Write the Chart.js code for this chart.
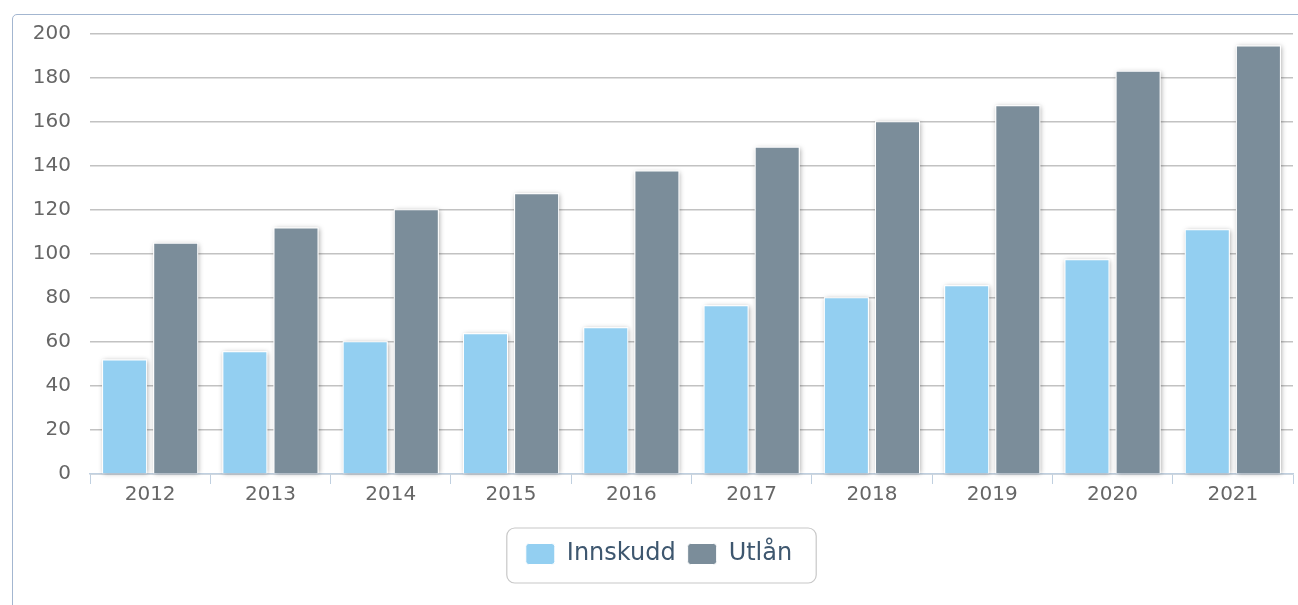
<!DOCTYPE html>
<html>
<head>
<meta charset="utf-8">
<script src="https://cdn.jsdelivr.net/npm/chart.js@4/dist/chart.umd.min.js"></script>
<style>
  html, body { margin: 0; padding: 0; background: #fff; overflow: hidden; }
  #frame {
    position: absolute; left: 12px; top: 14px; width: 1400px; height: 700px;
    border: 1px solid #a3b6d0; border-radius: 5px;
  }
  #chart { position: absolute; left: 0; top: 0; }
</style>
</head>
<body>
<div id="frame"></div>
<canvas id="chart" width="1298" height="605"></canvas>
<script>
// Data
const years = ['2012', '2013', '2014', '2015', '2016', '2017', '2018', '2019', '2020', '2021'];
const innskudd = [52.1, 55.8, 60.3, 64.0, 66.7, 76.7, 80.3, 85.8, 97.6, 111.2];
const utlan = [105.1, 112.1, 120.3, 127.6, 137.9, 148.8, 160.3, 167.6, 183.3, 194.8];
const yTicks = [0, 20, 40, 60, 80, 100, 120, 140, 160, 180, 200];

const font = 'DejaVu Sans';

// Soft shadow behind each bar
const barShadow = {
  id: 'barShadow',
  beforeDatasetsDraw(chart) {
    const ctx = chart.ctx;
    ctx.save();
    ctx.shadowColor = 'rgba(0, 0, 0, 0.35)';
    ctx.shadowBlur = 5;
    ctx.shadowOffsetX = 1;
    ctx.shadowOffsetY = 1;
    ctx.fillStyle = '#ffffff';
    chart.data.datasets.forEach((ds, i) => {
      chart.getDatasetMeta(i).data.forEach(bar => {
        const p = bar.getProps(['x', 'y', 'base', 'width'], true);
        ctx.fillRect(p.x - p.width / 2, p.y, p.width, p.base - p.y);
      });
    });
    ctx.restore();
  }
};

// Rounded frame around the legend
const legendFrame = {
  id: 'legendFrame',
  afterDraw(chart) {
    const hb = chart.legend.legendHitBoxes;
    if (!hb || !hb.length) return;
    const ctx = chart.ctx;
    const last = hb[hb.length - 1];
    const cy = hb[0].top + hb[0].height / 2;
    const left = hb[0].left - 19;
    const right = last.left + last.width + 24;
    const top = cy - 26;
    const bottom = cy + 29;
    ctx.save();
    ctx.strokeStyle = '#c8c8c8';
    ctx.lineWidth = 1.2;
    ctx.beginPath();
    ctx.roundRect(left, top, right - left, bottom - top, 8);
    ctx.stroke();
    ctx.restore();
  }
};

const ctx = document.getElementById('chart').getContext('2d');
new Chart(ctx, {
  type: 'bar',
  data: {
    labels: years,
    datasets: [
      {
        label: 'Innskudd',
        data: innskudd,
        backgroundColor: '#93cff1',
        borderColor: '#ffffff',
        borderWidth: 1,
        categoryPercentage: 0.85,
        barPercentage: 0.88
      },
      {
        label: 'Utlån',
        data: utlan,
        backgroundColor: '#7b8d9a',
        borderColor: '#ffffff',
        borderWidth: 1,
        categoryPercentage: 0.85,
        barPercentage: 0.88
      }
    ]
  },
  options: {
    responsive: false,
    animation: false,
    layout: {
      padding: { top: 34, left: 25, right: 5, bottom: 29 }
    },
    scales: {
      x: {
        grid: {
          offset: true,
          drawOnChartArea: false,
          color: '#c0d0e0',
          tickLength: 10
        },
        border: { color: '#c0d0e0', width: 1.5 },
        ticks: {
          color: '#666666',
          font: { family: font, size: 20 },
          padding: -1
        },
        afterFit(scale) { scale.height = 56; }
      },
      y: {
        min: 0,
        max: 200,
        afterBuildTicks(scale) { scale.ticks = yTicks.map(v => ({ value: v })); },
        grid: {
          color: '#c2c2c2',
          lineWidth: 1.5,
          drawTicks: false
        },
        border: { display: false },
        ticks: {
          color: '#666666',
          font: { family: font, size: 20 },
          padding: 19
        },
        afterFit(scale) { scale.width = 65; }
      }
    },
    plugins: {
      legend: {
        position: 'bottom',
        labels: {
          color: '#3e576f',
          font: { family: font, size: 24 },
          boxWidth: 29,
          boxHeight: 21,
          padding: 12,
          useBorderRadius: true,
          borderRadius: 3
        }
      },
      tooltip: { enabled: false }
    }
  },
  plugins: [barShadow, legendFrame]
});
</script>
</body>
</html>
